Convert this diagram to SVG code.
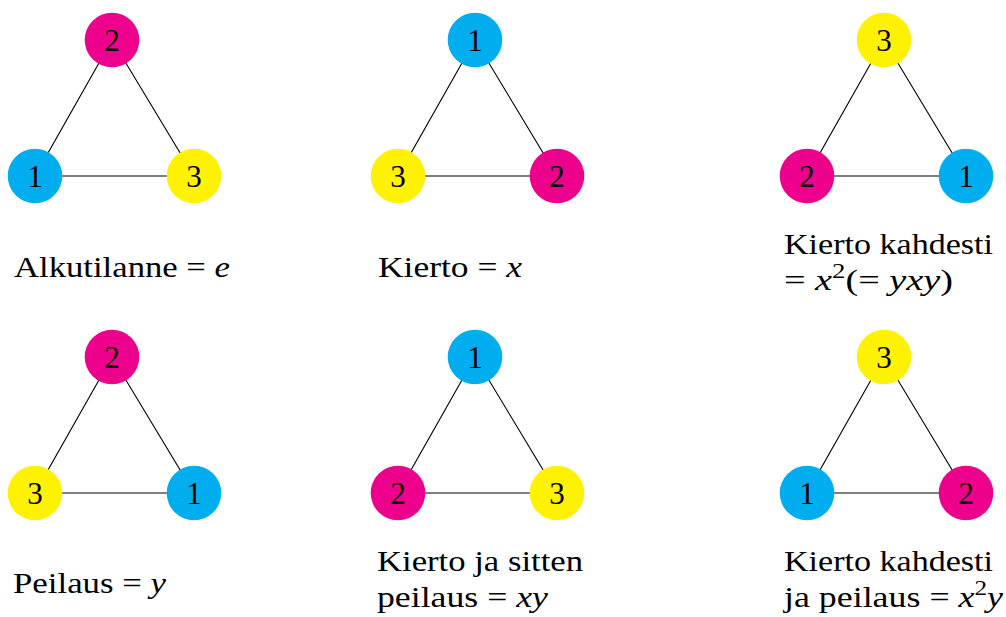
<svg xmlns="http://www.w3.org/2000/svg" width="1006" height="617" viewBox="0 0 1006 617">
<style>
.edge{stroke:#000;stroke-width:1.1;fill:none}
.m{fill:#EC008C}.c{fill:#00AEEF}.y{fill:#FFF200}
.d{font-family:"Liberation Serif","DejaVu Serif",serif;font-size:31px;text-anchor:middle;fill:#000}
.lb{font-family:"Liberation Serif","DejaVu Serif",serif;font-size:30px;fill:#000}
.i{font-style:italic}
</style>
<rect width="1006" height="617" fill="#fff"/>
<g id="connectors">
<path class="edge" d="M112,40L35,176L194,176Z"/>
<path class="edge" d="M475,40L398,176L557,176Z"/>
<path class="edge" d="M884,40L807,176L966,176Z"/>
<path class="edge" d="M112,357L35,493L194,493Z"/>
<path class="edge" d="M475,357L398,493L557,493Z"/>
<path class="edge" d="M884,357L807,493L966,493Z"/>
</g>
<g id="a-top"><circle class="m" cx="112" cy="40" r="27.3"/><text class="d" x="112" y="51">2</text></g>
<g id="a-left"><circle class="c" cx="35" cy="176" r="27.3"/><text class="d" x="35" y="187">1</text></g>
<g id="a-right"><circle class="y" cx="194" cy="176" r="27.3"/><text class="d" x="194" y="187">3</text></g>
<g id="b-top"><circle class="c" cx="475" cy="40" r="27.3"/><text class="d" x="475" y="51">1</text></g>
<g id="b-left"><circle class="y" cx="398" cy="176" r="27.3"/><text class="d" x="398" y="187">3</text></g>
<g id="b-right"><circle class="m" cx="557" cy="176" r="27.3"/><text class="d" x="557" y="187">2</text></g>
<g id="c-top"><circle class="y" cx="884" cy="40" r="27.3"/><text class="d" x="884" y="51">3</text></g>
<g id="c-left"><circle class="m" cx="807" cy="176" r="27.3"/><text class="d" x="807" y="187">2</text></g>
<g id="c-right"><circle class="c" cx="966" cy="176" r="27.3"/><text class="d" x="966" y="187">1</text></g>
<g id="d-top"><circle class="m" cx="112" cy="357" r="27.3"/><text class="d" x="112" y="368">2</text></g>
<g id="d-left"><circle class="y" cx="35" cy="493" r="27.3"/><text class="d" x="35" y="504">3</text></g>
<g id="d-right"><circle class="c" cx="194" cy="493" r="27.3"/><text class="d" x="194" y="504">1</text></g>
<g id="e-top"><circle class="c" cx="475" cy="357" r="27.3"/><text class="d" x="475" y="368">1</text></g>
<g id="e-left"><circle class="m" cx="398" cy="493" r="27.3"/><text class="d" x="398" y="504">2</text></g>
<g id="e-right"><circle class="y" cx="557" cy="493" r="27.3"/><text class="d" x="557" y="504">3</text></g>
<g id="f-top"><circle class="y" cx="884" cy="357" r="27.3"/><text class="d" x="884" y="368">3</text></g>
<g id="f-left"><circle class="c" cx="807" cy="493" r="27.3"/><text class="d" x="807" y="504">1</text></g>
<g id="f-right"><circle class="m" cx="966" cy="493" r="27.3"/><text class="d" x="966" y="504">2</text></g>
<g id="labels">
<text class="lb" x="14" y="277" textLength="216" lengthAdjust="spacingAndGlyphs">Alkutilanne = <tspan class="i">e</tspan></text>
<text class="lb" x="378" y="277" textLength="144" lengthAdjust="spacingAndGlyphs">Kierto = <tspan class="i">x</tspan></text>
<text class="lb" x="784" y="254" textLength="209" lengthAdjust="spacingAndGlyphs">Kierto kahdesti</text>
<text class="lb" x="784" y="290" textLength="169" lengthAdjust="spacingAndGlyphs">= <tspan class="i">x</tspan><tspan font-size="21" dy="-12">2</tspan><tspan dy="12">(= </tspan><tspan class="i">yxy</tspan>)</text>
<text class="lb" x="13" y="593" textLength="153" lengthAdjust="spacingAndGlyphs">Peilaus = <tspan class="i">y</tspan></text>
<text class="lb" x="377" y="571" textLength="206" lengthAdjust="spacingAndGlyphs">Kierto ja sitten</text>
<text class="lb" x="377" y="607" textLength="171" lengthAdjust="spacingAndGlyphs">peilaus = <tspan class="i">xy</tspan></text>
<text class="lb" x="784" y="571" textLength="209" lengthAdjust="spacingAndGlyphs">Kierto kahdesti</text>
<text class="lb" x="784" y="607" textLength="219" lengthAdjust="spacingAndGlyphs">ja peilaus = <tspan class="i">x</tspan><tspan font-size="21" dy="-12">2</tspan><tspan class="i" dy="12">y</tspan></text>
</g>
</svg>
